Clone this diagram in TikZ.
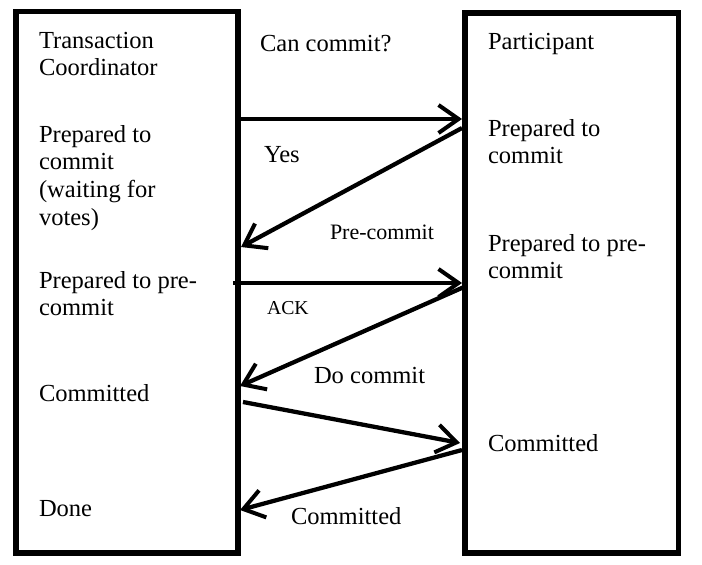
\documentclass[tikz,border=0pt]{standalone}
\usepackage{fontspec}
\setmainfont{Liberation Serif}
\usetikzlibrary{arrows.meta}
\newcommand\txtstack[1]{\vtop{\baselineskip=20.8pt\halign{##\hfil\cr#1\crcr}}}
\tikzset{
  lane/.style={draw=black, line width=4.1pt, minimum width=#1, inner sep=0pt, outer sep=0pt},
  msg/.style={line width=3.2pt, -{Straight Barb[length=15pt, width=21pt, line width=3pt]}},
  lbl/.style={anchor=base west, inner sep=0pt, outer sep=0pt, font=\fontsize{18.4}{20.8}\selectfont},
  smalllbl/.style={lbl, font=\fontsize{16.5}{19}\selectfont},
  tinylbl/.style={lbl, font=\fontsize{14.8}{17}\selectfont}
}
\begin{document}
\begin{tikzpicture}[x=0.75pt, y=-0.75pt]
\useasboundingbox (0,0) rectangle (702,564);
\fill[white] (0,0) rectangle (702,564);
% boxes
\node[lane=166.5pt, minimum height=406.1pt] (coord) at (127,282.25) {};
\node[lane=160.1pt, minimum height=405pt] (part) at (571.75,283) {};
% left texts
\node[lbl] (tc) at (39,48) {\txtstack{Transaction\cr Coordinator}};
\node[lbl] (lprep) at (39,142) {\txtstack{Prepared to\cr commit\cr (waiting for\cr votes)}};
\node[lbl] (lpre) at (39,288) {\txtstack{Prepared to pre-\cr commit}};
\node[lbl] (lcom) at (39,401) {Committed};
\node[lbl] (ldone) at (39,516) {Done};
% right texts
\node[lbl] (pt) at (488,49) {Participant};
\node[lbl] (rprep) at (488,136) {\txtstack{Prepared to\cr commit}};
\node[lbl] (rpre) at (488,251) {\txtstack{Prepared to pre-\cr commit}};
\node[lbl] (rcom) at (488,451) {Committed};
% message labels
\node[lbl] (m1) at (260,51) {Can commit?};
\node[lbl] (m2) at (264,162) {Yes};
\node[smalllbl] (m3) at (330,239) {Pre-commit};
\node[tinylbl] (m4) at (267,314) {ACK};
\node[lbl] (m5) at (314,383) {Do commit};
\node[lbl] (m6) at (291,524) {Committed};
% connector end points
\coordinate (a1s) at (240,119);
\coordinate (a1e) at (462,119);
\coordinate (a2s) at (462,128);
\coordinate (a2e) at (241,247);
\coordinate (a3s) at (233,283);
\coordinate (a3e) at (462,283);
\coordinate (a4s) at (464,287);
\coordinate (a4e) at (240,386);
\coordinate (a5s) at (243,402);
\coordinate (a5e) at (460,443);
\coordinate (a6s) at (462,450);
\coordinate (a6e) at (240,510);
% messages
\draw[msg] (a1s) -- (a1e);
\draw[msg] (a2s) -- (a2e);
\draw[msg] (a3s) -- (a3e);
\draw[msg] (a4s) -- (a4e);
\draw[msg] (a5s) -- (a5e);
\draw[msg] (a6s) -- (a6e);
\end{tikzpicture}
\end{document}
